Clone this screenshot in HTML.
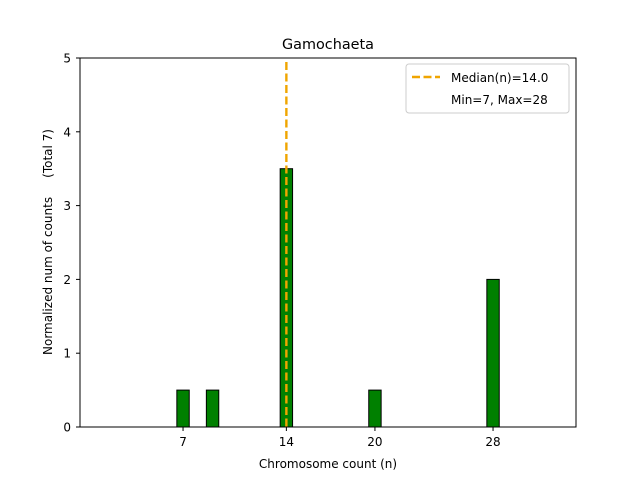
<!DOCTYPE html>
<html><head><meta charset="utf-8"><style>
body{margin:0;background:#fff}
svg text{font-family:"DejaVu Sans","Liberation Sans",sans-serif;}
</style></head><body>
<svg width="640" height="480" viewBox="0 0 640 480">
<text x="328" y="49" font-size="14.4" text-anchor="middle">Gamochaeta</text>
<g id="bars"></g>
<g id="median"></g>
<rect x="80" y="58" width="496" height="369" fill="none" stroke="#000" stroke-width="1"/>
<g id="xticks"></g>
<g id="yticks"></g>
<text x="328" y="468" font-size="12" text-anchor="middle">Chromosome count (n)</text>
<text transform="translate(52,242) rotate(-90)" font-size="12" text-anchor="middle" xml:space="preserve" style="white-space:pre">Normalized num of counts     (Total 7)</text>
<g>
<rect x="406" y="64" width="163" height="49" rx="3" fill="#fff" stroke="#ccc"/>
<line x1="412" y1="77" x2="440" y2="77" stroke="#f0a500" stroke-width="2.4" stroke-dasharray="8,3.5"/>
<text x="451" y="82" font-size="12">Median(n)=14.0</text>
<text x="451" y="104" font-size="12">Min=7, Max=28</text>
</g>
</svg>
<script>
const categories=[7,9,14,20,28];
const values=[0.5,0.5,3.5,0.5,2];
const xTickLabels=[7,14,20,28];
const yTickLabels=[0,1,2,3,4,5];
const medianValue=14;
const ns="http://www.w3.org/2000/svg";
const X=v=>80+(v-0.02)*(496/33.6);
const Y=v=>427-v*(369/5);
const bars=document.getElementById('bars');
categories.forEach((c,i)=>{
 const r=document.createElementNS(ns,'rect');
 const x0=X(c-0.42),x1=X(c+0.42);
 r.setAttribute('x',x0);r.setAttribute('width',x1-x0);
 r.setAttribute('y',Y(values[i]));r.setAttribute('height',Y(0)-Y(values[i]));
 r.setAttribute('fill','#008000');r.setAttribute('stroke','#000');r.setAttribute('stroke-width','1');
 
 
 bars.appendChild(r);
});
const m=document.createElementNS(ns,'line');
m.setAttribute('x1',X(medianValue));m.setAttribute('x2',X(medianValue));
m.setAttribute('y1',Y(5)+4);m.setAttribute('y2',Y(0));
m.setAttribute('stroke','#f0a500');m.setAttribute('stroke-width','2.4');m.setAttribute('stroke-dasharray','8,3.5');


document.getElementById('median').appendChild(m);
const xt=document.getElementById('xticks');
xTickLabels.forEach(v=>{
 const g=document.createElementNS(ns,'g');
 
 
 g.innerHTML=`<line x1="${X(v)}" x2="${X(v)}" y1="427" y2="431" stroke="#000"/><text x="${X(v)}" y="446" font-size="12" text-anchor="middle">${v}</text>`;
 xt.appendChild(g);
});
const yt=document.getElementById('yticks');
yTickLabels.forEach(v=>{
 const g=document.createElementNS(ns,'g');
 
 
 g.innerHTML=`<line x1="76" x2="80" y1="${Y(v)}" y2="${Y(v)}" stroke="#000"/><text x="71" y="${Y(v)+4.5}" font-size="12" text-anchor="end">${v}</text>`;
 yt.appendChild(g);
});
</script>
</body></html>
